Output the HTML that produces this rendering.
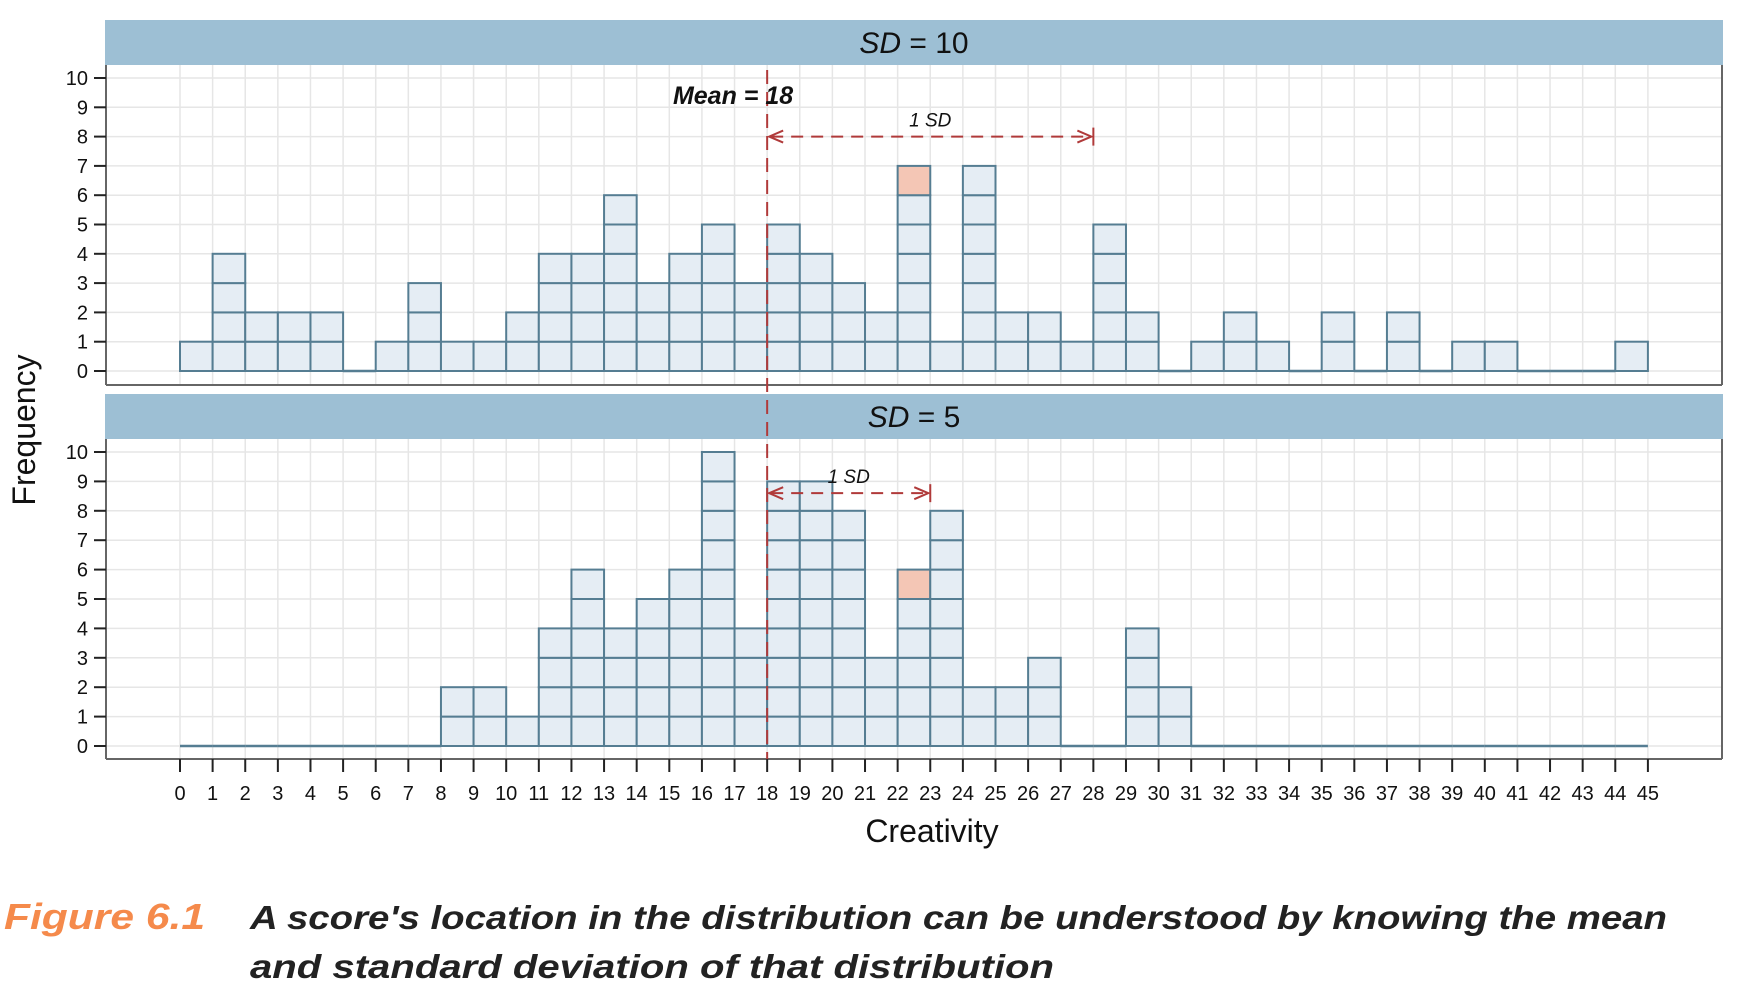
<!DOCTYPE html>
<html><head><meta charset="utf-8"><style>
html,body{margin:0;padding:0;background:#fff;}
svg{display:block;}
</style></head><body>
<svg id="chart" width="1746" height="998" xmlns="http://www.w3.org/2000/svg"></svg>
<script>
const bins = Array.from({length:45},(_,i)=>i);
const freqSD10 = [1,4,2,2,2,0,1,3,1,1,2,4,4,6,3,4,5,3,5,4,3,2,7,1,7,2,2,1,5,2,0,1,2,1,0,2,0,2,0,1,1,0,0,0,1];
const freqSD5 = [0,0,0,0,0,0,0,0,2,2,1,4,6,4,5,6,10,4,9,9,8,3,6,8,2,2,3,0,0,4,2,0,0,0,0,0,0,0,0,0,0,0,0,0,0];
const xTicks = Array.from({length:46},(_,i)=>i);
const yTicks = [0,1,2,3,4,5,6,7,8,9,10];
const meanVal = 18;
const sdTop = 10, sdBottom = 5;
const highlightTop = [22,6];
const highlightBottom = [22,5];

const NS="http://www.w3.org/2000/svg";
const svg=document.getElementById('chart');
function el(tag,attrs,parent){const e=document.createElementNS(NS,tag);for(const k in attrs)e.setAttribute(k,attrs[k]);(parent||svg).appendChild(e);return e;}
const X0=180, XU=32.62, LEFT=106, RIGHT=1722;
const xs=v=>X0+v*XU;
const panels=[
 {title:'SD',val:'= 10',data:freqSD10,stripY:20,top:65,bottom:385,y0:371,yu:29.3,hl:highlightTop,sd:sdTop,arrowY:8,name:'sd10'},
 {title:'SD',val:'= 5',data:freqSD5,stripY:394,top:439,bottom:759,y0:746,yu:29.4,hl:highlightBottom,sd:sdBottom,arrowY:8.6,name:'sd5'}
];
panels.forEach(p=>{
 const ys=v=>p.y0-v*p.yu;
 const g=el('g',{});
 
 
 const strip=el('rect',{x:LEFT-1,y:p.stripY,width:RIGHT-LEFT+2,height:p.top-p.stripY,fill:'#9dbfd4'},g);
 
 
 const st=el('text',{x:(LEFT+RIGHT)/2,y:p.stripY+33,'text-anchor':'middle','font-family':'Liberation Sans, sans-serif','font-size':30,fill:'#111'},g);
 st.innerHTML='<tspan font-style="italic">'+p.title+'</tspan> '+p.val;
 
 
 yTicks.forEach(t=>el('line',{x1:LEFT,x2:RIGHT,y1:ys(t),y2:ys(t),stroke:'#e6e6e6','stroke-width':1.5},g));
 xTicks.forEach(t=>el('line',{x1:xs(t),x2:xs(t),y1:p.top,y2:p.bottom,stroke:'#e6e6e6','stroke-width':1.5},g));
 el('line',{x1:LEFT,x2:LEFT,y1:p.top,y2:p.bottom,stroke:'#666','stroke-width':2},g);
 el('line',{x1:RIGHT,x2:RIGHT,y1:p.top,y2:p.bottom,stroke:'#666','stroke-width':2},g);
 el('line',{x1:LEFT,x2:RIGHT,y1:p.bottom,y2:p.bottom,stroke:'#666','stroke-width':2},g);
 yTicks.forEach(t=>{
  el('line',{x1:LEFT-12,x2:LEFT,y1:ys(t),y2:ys(t),stroke:'#222','stroke-width':2},g);
  const tx=el('text',{x:LEFT-18,y:ys(t)+7,'text-anchor':'end','font-family':'Liberation Sans, sans-serif','font-size':20,fill:'#111'},g);
  tx.textContent=t;
  
  
 });
 bins.forEach((b,i)=>{
  const n=p.data[i];
  if(n===0){
   const z=el('line',{x1:xs(b),x2:xs(b+1),y1:ys(0),y2:ys(0),stroke:'#557d92','stroke-width':2.5},g);
   
   
   return;
  }
  for(let k=0;k<n;k++){
   const hl=(p.hl[0]===b&&p.hl[1]===k);
   const c=el('rect',{x:xs(b),y:ys(k+1),width:XU,height:p.yu,fill:hl?'#f4c6b5':'#e5edf4',stroke:'#557d92','stroke-width':2},g);
   
   
  }
 });
 const ay=ys(p.arrowY);
 const a=el('line',{x1:xs(meanVal)+4,x2:xs(meanVal+p.sd)-4,y1:ay,y2:ay,stroke:'#b03a3a','stroke-width':2,'stroke-dasharray':'12,8'},g);
 
 
 el('polyline',{points:`${xs(meanVal)+16},${ay-6} ${xs(meanVal)+2},${ay} ${xs(meanVal)+16},${ay+6}`,fill:'none',stroke:'#b03a3a','stroke-width':2},g);
 el('polyline',{points:`${xs(meanVal+p.sd)-16},${ay-6} ${xs(meanVal+p.sd)-2},${ay} ${xs(meanVal+p.sd)-16},${ay+6}`,fill:'none',stroke:'#b03a3a','stroke-width':2},g);
 el('line',{x1:xs(meanVal+p.sd),x2:xs(meanVal+p.sd),y1:ay-9,y2:ay+9,stroke:'#b03a3a','stroke-width':2},g);
 const sl=el('text',{x:(xs(meanVal)+xs(meanVal+p.sd))/2,y:ay-10,'text-anchor':'middle','font-family':'Liberation Sans, sans-serif','font-style':'italic','font-size':19,fill:'#111'},g);
 sl.textContent='1 SD';
 
 
});
const ml=el('line',{x1:xs(meanVal),x2:xs(meanVal),y1:70,y2:759,stroke:'#b03a3a','stroke-width':2,'stroke-dasharray':'14,8'});


const mt=el('text',{x:xs(meanVal)+26,y:104,'text-anchor':'end','font-family':'Liberation Sans, sans-serif','font-style':'italic','font-weight':'bold','font-size':25,fill:'#111'});
mt.textContent='Mean = 18';


xTicks.forEach(t=>{
 el('line',{x1:xs(t),x2:xs(t),y1:759,y2:772,stroke:'#222','stroke-width':2});
 const tx=el('text',{x:xs(t),y:800,'text-anchor':'middle','font-family':'Liberation Sans, sans-serif','font-size':20,fill:'#111'});
 tx.textContent=t;
 
 
});
const xt=el('text',{x:932,y:842,'text-anchor':'middle','font-family':'Liberation Sans, sans-serif','font-size':32,fill:'#111'});
xt.textContent='Creativity';


const yt=el('text',{x:0,y:0,'text-anchor':'middle','font-family':'Liberation Sans, sans-serif','font-size':32,fill:'#111',transform:'translate(35,430) rotate(-90)'});
yt.textContent='Frequency';


const c1=el('text',{x:4,y:929,'font-family':'Liberation Sans, sans-serif','font-style':'italic','font-weight':'bold','font-size':36,fill:'#f58a4b',textLength:201,lengthAdjust:'spacingAndGlyphs'});
c1.textContent='Figure 6.1';


const c2=el('text',{x:250,y:929,'font-family':'Liberation Sans, sans-serif','font-style':'italic','font-weight':'bold','font-size':33,fill:'#222',textLength:1417,lengthAdjust:'spacingAndGlyphs'});
c2.textContent="A score's location in the distribution can be understood by knowing the mean";


const c3=el('text',{x:250,y:978,'font-family':'Liberation Sans, sans-serif','font-style':'italic','font-weight':'bold','font-size':33,fill:'#222',textLength:804,lengthAdjust:'spacingAndGlyphs'});
c3.textContent='and standard deviation of that distribution';


</script>
</body></html>
